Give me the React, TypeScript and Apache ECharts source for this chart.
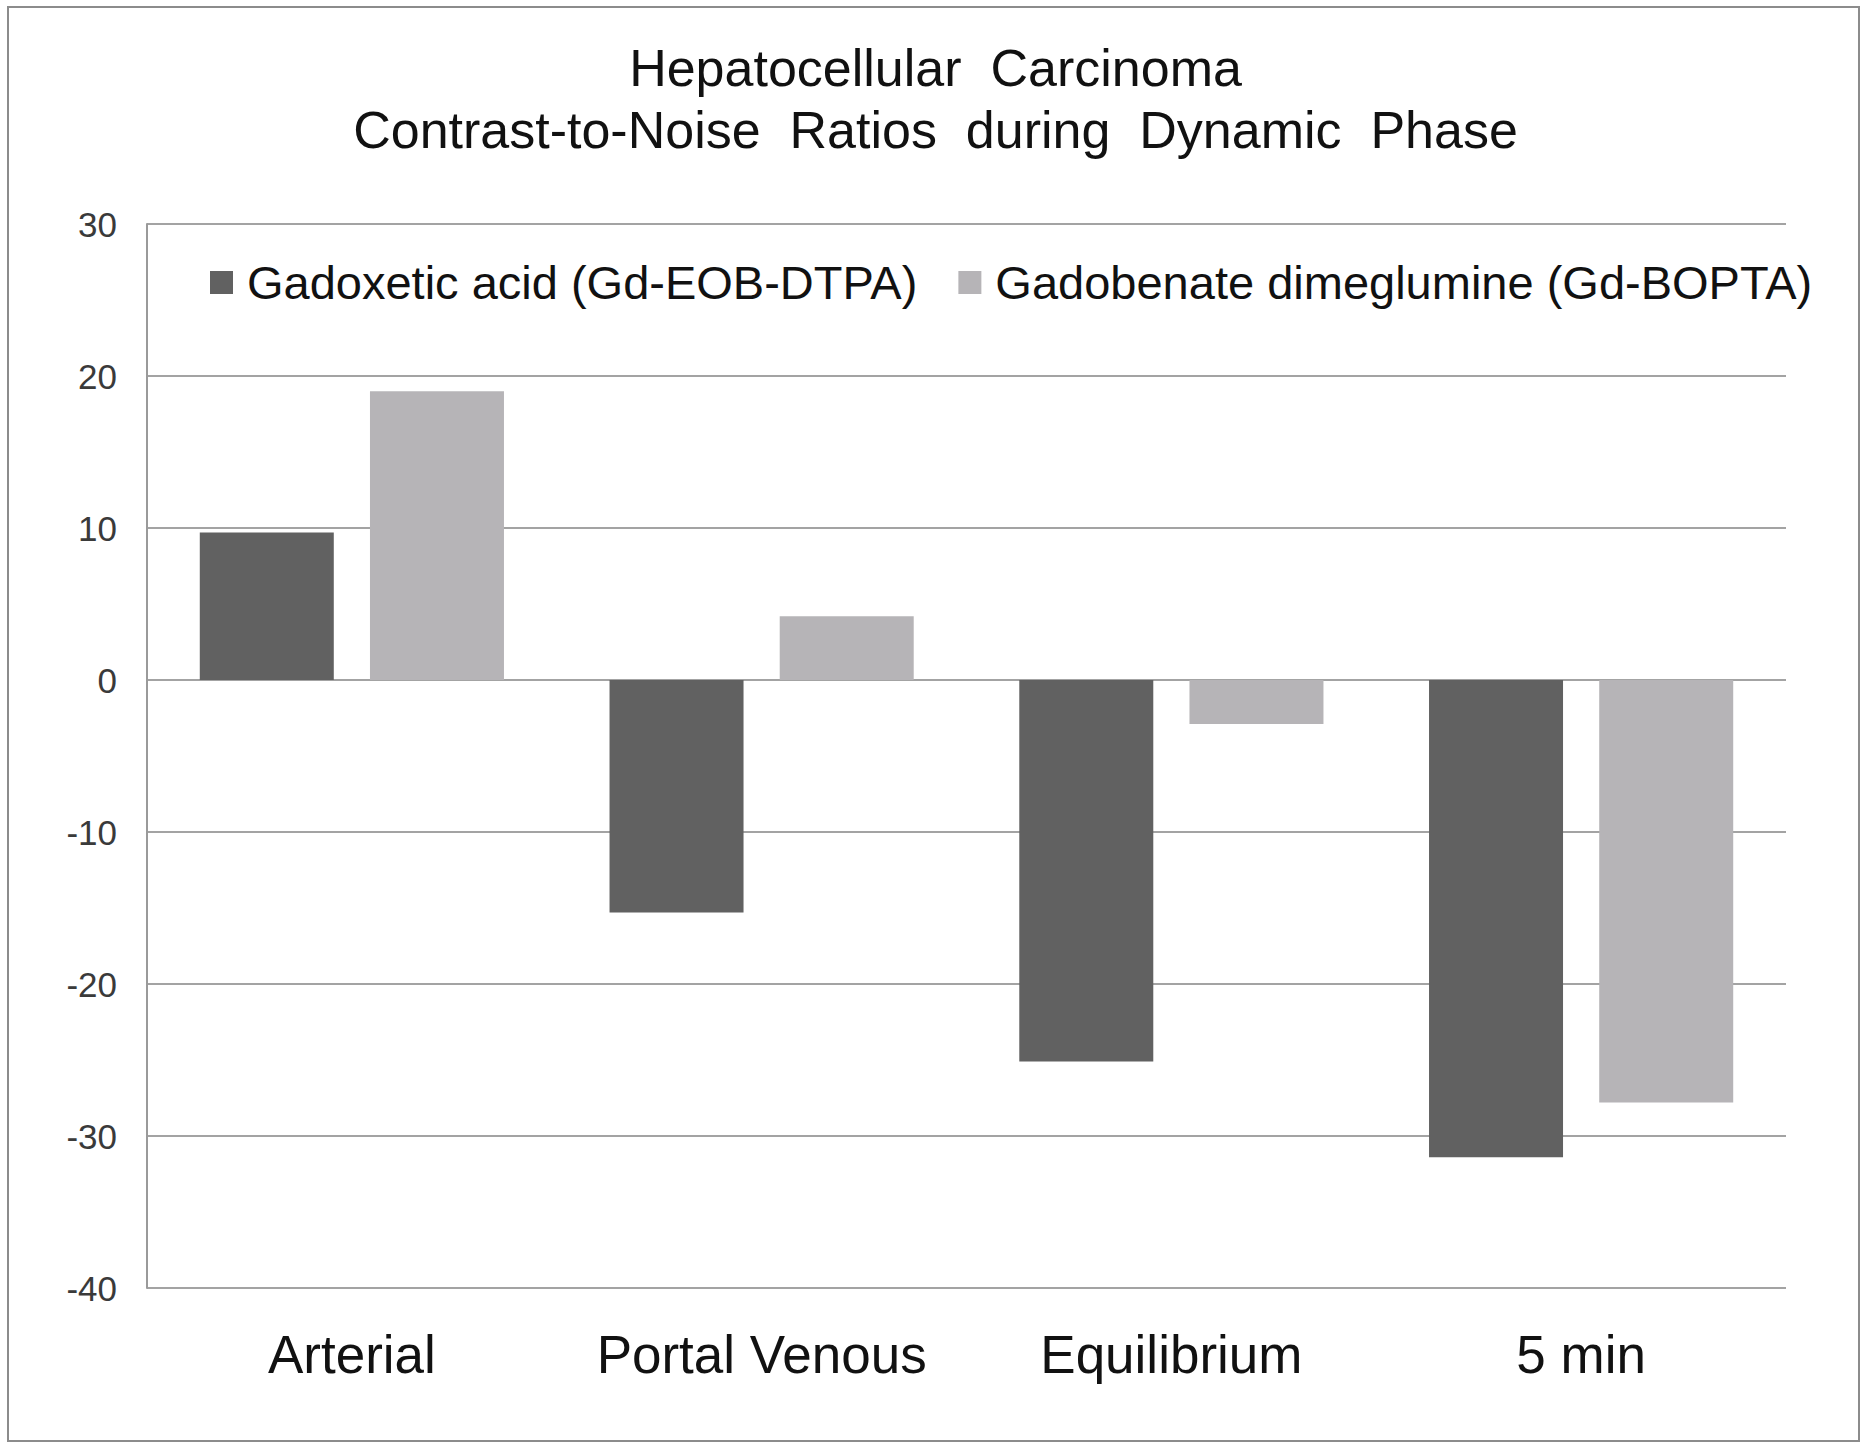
import React, { useEffect, useRef } from "react";
import * as echarts from "echarts";

const titleLines = ["Hepatocellular  Carcinoma", "Contrast-to-Noise  Ratios  during  Dynamic  Phase"];
const categories = ["Arterial", "Portal Venous", "Equilibrium", "5 min"];
const seriesNames = ["Gadoxetic acid (Gd-EOB-DTPA)", "Gadobenate dimeglumine (Gd-BOPTA)"];
const gadoxetic = [9.7, -15.3, -25.1, -31.4];
const gadobenate = [19.0, 4.2, -2.9, -27.8];
const yMin = -40;
const yMax = 30;
const yStep = 10;

const FONT = "'Liberation Sans', Arial, sans-serif";

export default function App() {
  const ref = useRef<HTMLDivElement>(null);
  useEffect(() => {
    if (!ref.current) return;
    const chart = echarts.init(ref.current, undefined, { renderer: "svg" });
    chart.setOption({
      animation: false,
      backgroundColor: "#ffffff",
      title: {
        text: titleLines.join("\n"),
        left: "center",
        top: 32,
        textStyle: { fontFamily: FONT, fontSize: 52, fontWeight: "normal", color: "#111", lineHeight: 62 },
      },
      graphic: [
        {
          type: "rect",
          shape: { x: 8, y: 7, width: 1851, height: 1434 },
          style: { fill: "none", stroke: "#8c8c8c", lineWidth: 2 },
          silent: true,
        },
      ],
      legend: {
        data: seriesNames,
        left: 205,
        top: 254,
        itemWidth: 23,
        itemHeight: 23,
        itemGap: 41,
        icon: "rect",
        textStyle: { fontFamily: FONT, fontSize: 47, color: "#111", padding: [0, 0, 0, 9] },
      },
      grid: { left: 147, right: 85, top: 224, bottom: 157, containLabel: false },
      xAxis: {
        type: "category",
        data: categories,
        position: "bottom",
        axisLine: { show: false },
        axisTick: { show: false },
        axisLabel: { interval: 0, fontFamily: FONT, fontSize: 53, color: "#111", margin: 40, lineHeight: 53 },
      },
      yAxis: {
        type: "value",
        min: yMin,
        max: yMax,
        interval: yStep,
        axisLine: { show: true, lineStyle: { color: "#9a9a9a", width: 2 } },
        axisTick: { show: false },
        splitLine: { show: true, lineStyle: { color: "#a3a3a3", width: 2 } },
        axisLabel: { fontFamily: FONT, fontSize: 35, color: "#3a3a3a", margin: 30 },
      },
      series: [
        {
          name: seriesNames[0],
          type: "bar",
          data: gadoxetic,
          barWidth: 134,
          barGap: "27%",
          itemStyle: { color: "#616161" },
        },
        {
          name: seriesNames[1],
          type: "bar",
          data: gadobenate,
          barWidth: 134,
          barGap: "27%",
          itemStyle: { color: "#b6b4b7" },
        },
      ],
    });
    return () => chart.dispose();
  }, []);
  return (
    <div
      ref={ref}
      style={{ position: "fixed", left: 0, top: 0, width: 1871, height: 1445 }}
    />
  );
}
